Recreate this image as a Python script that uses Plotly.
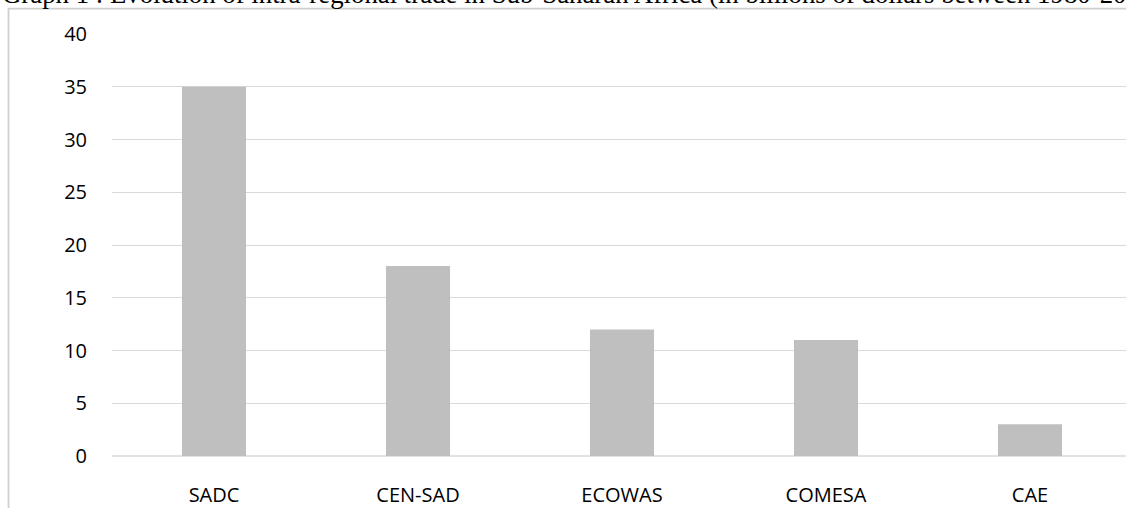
import plotly.graph_objects as go

categories = ["SADC", "CEN-SAD", "ECOWAS", "COMESA", "CAE"]
values = [35, 18, 12, 11, 3]
y_ticks = [0, 5, 10, 15, 20, 25, 30, 35, 40]
title_text = "Graph 1 : Evolution of intra-regional trade in Sub-Saharan Africa (in billions of dollars between 1980-2015)"

W, H = 1126, 508
L, T, B = 112, 34, 50
R = 0
pw = W - L - R
ph = H - T - B

def px_x(x):
    return (x - L) / pw

def px_y(y):
    return (H - B - y) / ph

fig = go.Figure(go.Bar(
    x=categories, y=values,
    marker=dict(color="#bfbfbf", line=dict(width=0)),
    width=0.314,
))

fig.update_layout(
    width=W, height=H,
    margin=dict(l=L, r=R, t=T, b=B, pad=0),
    paper_bgcolor="white", plot_bgcolor="white",
    showlegend=False,
    font=dict(family="Open Sans, Noto Sans, sans-serif", size=20, color="#000000"),
    xaxis=dict(
        range=[-0.5, -0.5 + pw / 204.0],
        showgrid=False, zeroline=False, showline=False,
        ticks="", ticklabelstandoff=25,
        tickfont=dict(size=20, color="#000000"),
    ),
    yaxis=dict(
        range=[0, 40], tickvals=y_ticks,
        showgrid=True, gridcolor="#d9d9d9", gridwidth=1.3,
        zeroline=False, showline=False, ticks="",
        ticklabelstandoff=24,
        tickfont=dict(size=20, color="#000000"),
    ),
    shapes=[
        dict(type="rect", xref="paper", yref="paper",
             x0=px_x(8.5), x1=px_x(1140), y0=px_y(530), y1=px_y(8.5),
             line=dict(color="#d0d0d0", width=1.8), fillcolor="rgba(0,0,0,0)",
             layer="below"),
        dict(type="line", xref="paper", yref="paper",
             x0=0, x1=1, y0=0, y1=0,
             line=dict(color="#d9d9d9", width=1.3), layer="below"),
    ],
    annotations=[
        dict(text=title_text, xref="paper", yref="paper",
             x=px_x(0), y=px_y(11), xanchor="left", yanchor="bottom",
             showarrow=False,
             font=dict(family="Liberation Serif, Times New Roman, serif", size=26.8, color="#000000")),
    ],
)

fig.write_html("out.html")
